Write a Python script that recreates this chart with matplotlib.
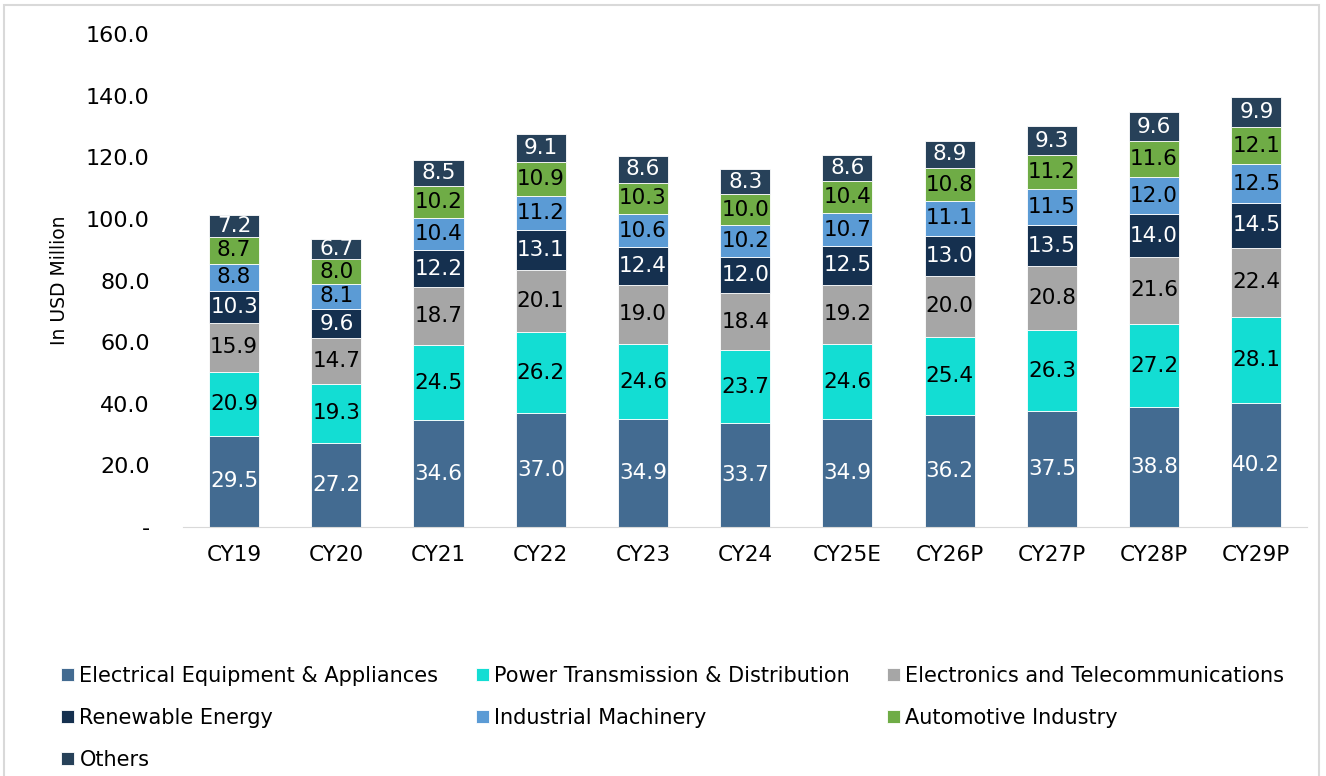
import matplotlib.pyplot as plt
import numpy as np
from matplotlib.patches import Rectangle

plt.rcParams['font.family'] = ['DejaVu Sans']

# dados
years = ['CY19', 'CY20', 'CY21', 'CY22', 'CY23', 'CY24', 'CY25E', 'CY26P', 'CY27P', 'CY28P', 'CY29P']
electrical = [29.5, 27.2, 34.6, 37.0, 34.9, 33.7, 34.9, 36.2, 37.5, 38.8, 40.2]
power_td = [20.9, 19.3, 24.5, 26.2, 24.6, 23.7, 24.6, 25.4, 26.3, 27.2, 28.1]
electronics = [15.9, 14.7, 18.7, 20.1, 19.0, 18.4, 19.2, 20.0, 20.8, 21.6, 22.4]
renewable = [10.3, 9.6, 12.2, 13.1, 12.4, 12.0, 12.5, 13.0, 13.5, 14.0, 14.5]
industrial = [8.8, 8.1, 10.4, 11.2, 10.6, 10.2, 10.7, 11.1, 11.5, 12.0, 12.5]
automotive = [8.7, 8.0, 10.2, 10.9, 10.3, 10.0, 10.4, 10.8, 11.2, 11.6, 12.1]
others = [7.2, 6.7, 8.5, 9.1, 8.6, 8.3, 8.6, 8.9, 9.3, 9.6, 9.9]

series = [
    ('Electrical Equipment & Appliances', electrical, '#436b91', 'white'),
    ('Power Transmission & Distribution', power_td, '#13ddd3', 'black'),
    ('Electronics and Telecommunications', electronics, '#a6a6a6', 'black'),
    ('Renewable Energy', renewable, '#15304f', 'white'),
    ('Industrial Machinery', industrial, '#5b9bd5', 'black'),
    ('Automotive Industry', automotive, '#6fac46', 'black'),
    ('Others', others, '#274159', 'white'),
]

fig = plt.figure(figsize=(13.26, 7.76), dpi=100)
ax = fig.add_axes([0.138, 0.321, 0.848, 0.635])

x = np.arange(len(years))
bottom = np.zeros(len(years))
handles = {}
for name, vals, color, tcolor in series:
    vals = np.array(vals)
    bars = ax.bar(x, vals, 0.49, bottom=bottom, color=color, edgecolor='white', linewidth=0.6, label=name)
    handles[name] = bars
    for xi, b, v in zip(x, bottom, vals):
        ax.text(xi, b + v / 2, f'{v:.1f}', ha='center', va='center', color=tcolor, fontsize=15.5)
    bottom += vals

ax.set_xlim(-0.5, len(years) - 0.5)
ax.set_ylim(0, 160)
ax.set_yticks(np.arange(0, 161, 20))
ax.set_yticklabels(['-'] + [f'{v:.1f}' for v in np.arange(20, 161, 20)], fontsize=16)
ax.set_xticks(x)
ax.set_xticklabels(years, fontsize=15.5)
ax.tick_params(axis='both', length=0)
ax.tick_params(axis='y', pad=24)
ax.tick_params(axis='x', pad=13)
for s in ['top', 'right', 'left']:
    ax.spines[s].set_visible(False)
ax.spines['bottom'].set_color('#d9d9d9')
ax.set_ylabel('In USD Million', fontsize=13.5, labelpad=12)

# legenda em ordem por linhas
order = ['Electrical Equipment & Appliances', 'Renewable Energy', 'Others',
         'Power Transmission & Distribution', 'Industrial Machinery',
         'Electronics and Telecommunications', 'Automotive Industry']
fig.legend([handles[n] for n in order], order, loc='upper left', bbox_to_anchor=(0.04, 0.153),
           ncol=3, frameon=False, fontsize=15, handlelength=0.62, handleheight=0.62,
           handletextpad=0.25, columnspacing=1.8, labelspacing=1.06, borderaxespad=0)

# moldura
fig.patches.append(Rectangle((0.003, -0.05), 0.992, 1.043, transform=fig.transFigure,
                             fill=False, edgecolor='#d9d9d9', linewidth=1.5))

fig.savefig('out.png', dpi=100)
